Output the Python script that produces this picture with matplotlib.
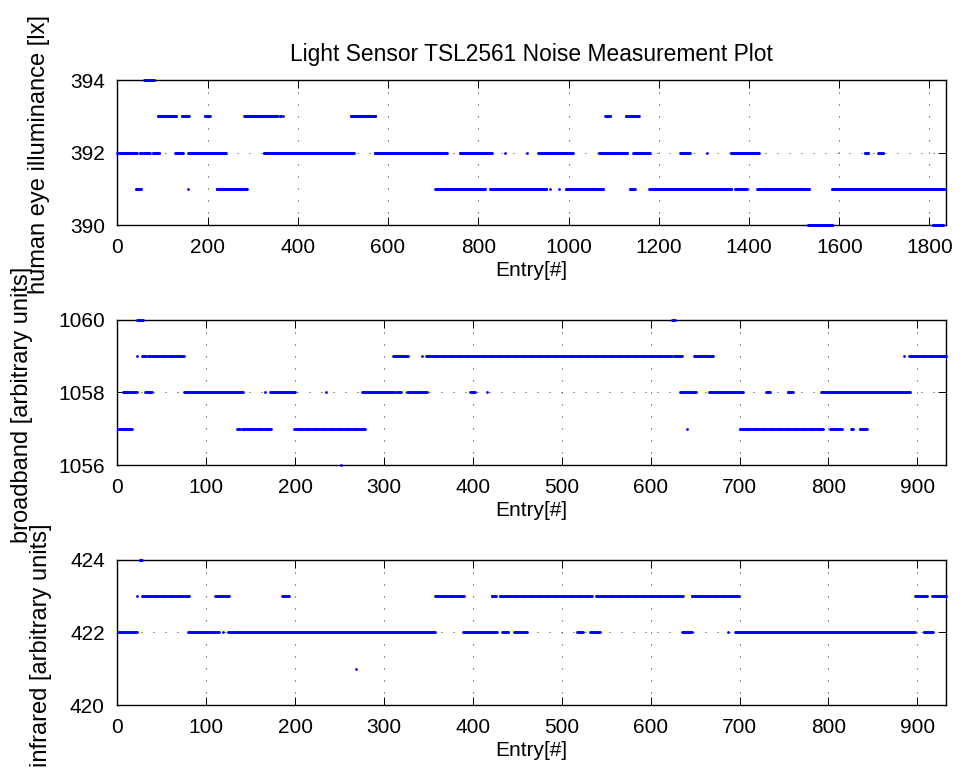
import numpy as np
import matplotlib
matplotlib.use("Agg")
import matplotlib.pyplot as plt

plt.rcParams['font.family'] = ['Liberation Sans', 'DejaVu Sans']

# runs of constant reading: (first entry, last entry, value)
lux_start = [60, 90, 143, 194, 281, 360, 368, 518, 1081, 1127,
             0, 50, 79, 128, 157, 198, 325, 570, 726, 759, 859, 907, 933, 1067, 1143, 1248, 1306, 1360, 1657, 1686,
             41, 157, 220, 705, 826, 960, 979, 994, 1136, 1179, 1369, 1418, 1584,
             1530, 1807]
lux_end = [82, 130, 158, 205, 355, 362, 368, 572, 1092, 1156,
           43, 72, 93, 145, 198, 240, 524, 722, 730, 830, 859, 907, 1009, 1130, 1180, 1269, 1306, 1422, 1664, 1697,
           53, 157, 287, 815, 951, 960, 979, 1077, 1147, 1361, 1395, 1533, 1834,
           1585, 1830]
lux_val = [394, 393, 393, 393, 393, 393, 393, 393, 393, 393,
           392, 392, 392, 392, 392, 392, 392, 392, 392, 392, 392, 392, 392, 392, 392, 392, 392, 392, 392, 392,
           391, 391, 391, 391, 391, 391, 391, 391, 391, 391, 391, 391, 391,
           390, 390]

bb_start = [22, 624,
            22, 28, 35, 310, 343, 347, 626, 649, 885, 891,
            6, 31, 75, 166, 172, 235, 275, 314, 326, 397, 416, 633, 666, 730, 754, 792,
            1, 135, 140, 199, 641, 700, 802, 825, 835,
            252]
bb_end = [29, 627,
          22, 32, 75, 327, 343, 624, 635, 670, 885, 932,
          22, 39, 141, 166, 200, 235, 311, 319, 348, 402, 416, 651, 704, 734, 760, 892,
          16, 138, 173, 279, 641, 794, 815, 828, 843,
          252]
bb_val = [1060, 1060,
          1059, 1059, 1059, 1059, 1059, 1059, 1059, 1059, 1059, 1059,
          1058, 1058, 1058, 1058, 1058, 1058, 1058, 1058, 1058, 1058, 1058, 1058, 1058, 1058, 1058, 1058,
          1057, 1057, 1057, 1057, 1057, 1057, 1057, 1057, 1057,
          1056]

ir_start = [25,
            22, 28, 110, 185, 357, 421, 430, 539, 646, 897, 917,
            1, 80, 119, 125, 389, 433, 446, 517, 532, 635, 687, 695, 907,
            268]
ir_end = [28,
          22, 81, 126, 193, 390, 426, 534, 636, 699, 911, 932,
          22, 114, 119, 357, 427, 440, 461, 524, 543, 646, 687, 897, 918,
          268]
ir_val = [424,
          423, 423, 423, 423, 423, 423, 423, 423, 423, 423, 423,
          422, 422, 422, 422, 422, 422, 422, 422, 422, 422, 422, 422, 422,
          421]


def expand(starts, ends, vals):
    xs, ys = [], []
    for s, e, v in zip(starts, ends, vals):
        n = np.arange(s, e + 1)
        xs.append(n)
        ys.append(np.full(len(n), v))
    return np.concatenate(xs), np.concatenate(ys)


fig = plt.figure(figsize=(9.68, 7.81), dpi=100)

panels = [
    (expand(lux_start, lux_end, lux_val), 1836, np.arange(0, 1801, 200), [390, 392, 394], 0.7115),
    (expand(bb_start, bb_end, bb_val), 932, np.arange(0, 901, 100), [1056, 1058, 1060], 0.4046),
    (expand(ir_start, ir_end, ir_val), 932, np.arange(0, 901, 100), [420, 422, 424], 0.0973),
]

axes = []
for (x, y), xmax, xt, yt, bottom in panels:
    ax = fig.add_axes([0.1212, bottom, 0.8558, 0.186])
    ax.plot(x, y, 'o', color='#0000ff', markersize=2.0, markeredgewidth=0,
            clip_on=False, zorder=3)
    ax.set_xlim(0, xmax)
    ax.set_ylim(yt[0], yt[-1])
    ax.set_xticks(xt)
    ax.set_yticks(yt)
    ax.grid(True, linestyle=(0, (1, 11)), linewidth=0.72, color='0.2')
    ax.tick_params(direction='in', length=6, width=0.7, top=True, right=True,
                   labelsize=15, pad=9)
    for sp in ax.spines.values():
        sp.set_linewidth(1.0)
    ax.set_xlabel('Entry[#]', fontsize=15, labelpad=3)
    axes.append(ax)

axes[0].set_title('Light Sensor TSL2561 Noise Measurement Plot', fontsize=16.4, pad=14)

# the y labels sit where MATLAB left them, overlapping each other
fig.text(39 / 968, 1 - 155 / 781, 'human eye illuminance [lx]', rotation=90,
         ha='center', va='center', fontsize=17)
fig.text(22 / 968, 1 - 405 / 781, 'broadband [arbitrary units]', rotation=90,
         ha='center', va='center', fontsize=17)
fig.text(41 / 968, 1 - 645 / 781, 'infrared [arbitrary units]', rotation=90,
         ha='center', va='center', fontsize=17)

fig.savefig('out.png', dpi=100)
